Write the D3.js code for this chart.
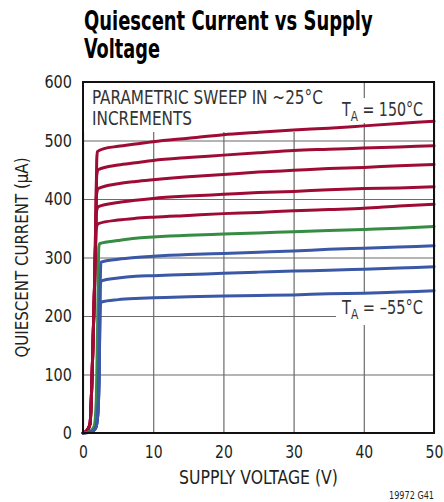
<!DOCTYPE html>
<html>
<head>
<meta charset="utf-8">
<script src="https://cdn.jsdelivr.net/npm/d3@7"></script>
<style>
  html, body { margin: 0; padding: 0; background: #fff; }
  svg { display: block; }
  text { font-family: "Liberation Sans Narrow", "Arial Narrow", "DejaVu Sans Condensed", "Roboto Condensed", sans-serif; fill: #231f20; }
</style>
</head>
<body>
<svg id="chart" width="444" height="502"></svg>
<script>
// ---------------- DATA ----------------
const titleLines = ["Quiescent Current vs Supply", "Voltage"];
const xLabel = "SUPPLY VOLTAGE (V)";
const yLabel = "QUIESCENT CURRENT (\u00B5A)";
const xTicks = [0, 10, 20, 30, 40, 50];
const yTicks = [0, 100, 200, 300, 400, 500, 600];
const footnote = "19972 G41";
const noteLines = ["PARAMETRIC SWEEP IN ~25\u00B0C", "INCREMENTS"];
const tempHigh = "150\u00B0C";
const tempLow = "\u201355\u00B0C";

// supply voltage (V), quiescent current (µA) per temperature curve
const t150 = [[0,0],[0.6,5],[1.0,15],[1.3,100],[1.6,230],[1.8,330],[1.95,465],[2.05,481],[3,486],[5,490],[7.5,494],[10,498],[15,504],[20,510],[25,514],[30,518],[35,521],[40,525],[45,529],[50,533]];
const t125 = [[0,0],[0.6,5],[1.0,15],[1.3,100],[1.6,230],[1.8,330],[1.95,440],[2.15,450],[5,458],[7.5,462],[10,466],[15,471],[20,475],[25,479],[30,483],[35,485],[40,487],[45,489],[50,491]];
const t100 = [[0,0],[0.6,5],[1.0,15],[1.3,100],[1.6,230],[1.8,330],[1.9,405],[2.2,418],[5,426],[7.5,430],[10,433],[15,438],[20,442],[25,446],[30,449],[35,452],[40,454],[45,457],[50,459]];
const t75  = [[0,0],[0.6,5],[1.0,15],[1.3,100],[1.6,230],[1.8,330],[1.88,375],[2.2,387],[5,394],[7.5,398],[10,401],[15,405],[20,408],[25,411],[30,413],[35,416],[40,418],[45,419],[50,421]];
const t50  = [[0,0],[0.6,5],[1.0,15],[1.3,100],[1.6,230],[1.8,345],[2.2,358],[5,364],[7.5,367],[10,369],[15,372],[20,375],[25,377],[30,380],[35,382],[40,384],[45,388],[50,391]];
const t25  = [[0,0],[1.0,3],[1.6,12],[1.9,60],[2.1,200],[2.25,318],[2.4,324],[5,329],[7.5,333],[10,335],[15,338],[20,340],[25,342],[30,344],[35,346],[40,348],[45,350],[50,353]];
const t0   = [[0,0],[1.2,2],[1.8,8],[2.1,30],[2.3,100],[2.45,250],[2.55,292],[5,297],[7.5,300],[10,302],[15,305],[20,307],[25,309],[30,311],[35,314],[40,316],[45,318],[50,320]];
const tm25 = [[0,0],[1.2,2],[1.8,8],[2.1,30],[2.3,100],[2.45,250],[2.6,260],[5,265],[7.5,268],[10,269],[15,271],[20,273],[25,275],[30,277],[35,278],[40,280],[45,282],[50,284]];
const tm55 = [[0,0],[1.2,2],[1.8,8],[2.1,30],[2.3,100],[2.45,215],[2.6,224],[5,228],[7.5,230],[10,231],[15,233],[20,234],[25,235],[30,236],[35,238],[40,239],[45,241],[50,243]];

const seriesRed = [t150, t125, t100, t75, t50];
const seriesGreen = [t25];
const seriesBlue = [t0, tm25, tm55];

// ---------------- DRAW ----------------
const svg = d3.select("#chart");
const L = 83, R = 434, T = 82, B = 433;
const x = d3.scaleLinear().domain([0, 50]).range([L, R]);
const y = d3.scaleLinear().domain([0, 600]).range([B, T]);

// fit a text element horizontally into a target width by scaling about its anchor x
function fitWidth(sel, ax, target) {
  const w = sel.node().getBBox().width;
  if (w > 0) {
    const k = target / w;
    sel.attr("transform", `translate(${ax},0) scale(${k},1) translate(${-ax},0)`);
  }
}

// title
const t1 = svg.append("text").attr("x", 84).attr("y", 30)
  .attr("font-size", 26).attr("font-weight", "bold").style("fill", "#000")
  .text(titleLines[0]);
fitWidth(t1, 84, 289);
const t2 = svg.append("text").attr("x", 84).attr("y", 58)
  .attr("font-size", 26).attr("font-weight", "bold").style("fill", "#000")
  .text(titleLines[1]);
fitWidth(t2, 84, 76);

// gridlines
const grid = svg.append("g").attr("class", "grid");
grid.append("g").attr("transform", `translate(0,${B})`)
  .call(d3.axisBottom(x).tickValues(xTicks).tickSize(-(B - T)).tickFormat(""))
  .call(g => g.select(".domain").remove());
grid.append("g").attr("transform", `translate(${L},0)`)
  .call(d3.axisLeft(y).tickValues(yTicks).tickSize(-(R - L)).tickFormat(""))
  .call(g => g.select(".domain").remove());
grid.selectAll("line").attr("stroke", "#6b6b6b").attr("stroke-width", 1.2);

// white boxes behind annotations (break gridlines)
svg.append("rect").attr("x", L + 1).attr("y", T + 1).attr("width", 252).attr("height", 49).attr("fill", "#fff");
svg.append("rect").attr("x", 336).attr("y", 98).attr("width", R - 337).attr("height", 25).attr("fill", "#fff");
svg.append("rect").attr("x", 336).attr("y", 293).attr("width", R - 337).attr("height", 32).attr("fill", "#fff");

// curves
const line = d3.line().x(d => x(d[0])).y(d => y(d[1])).curve(d3.curveMonotoneX);
const curves = svg.append("g").attr("fill", "none").attr("stroke-width", 3).attr("stroke-linejoin", "round").attr("stroke-linecap", "round");
seriesRed.forEach(s => curves.append("path").attr("d", line(s)).attr("stroke", "#9e0b34"));
seriesGreen.forEach(s => curves.append("path").attr("d", line(s)).attr("stroke", "#368c44"));
seriesBlue.forEach(s => curves.append("path").attr("d", line(s)).attr("stroke", "#3a58a6"));

// frame
svg.append("rect").attr("x", L).attr("y", T).attr("width", R - L).attr("height", B - T)
  .attr("fill", "none").attr("stroke", "#111").attr("stroke-width", 2);

// axes tick labels
const xAxis = svg.append("g").attr("transform", `translate(0,${B})`)
  .call(d3.axisBottom(x).tickValues(xTicks).tickSize(0).tickPadding(12));
xAxis.select(".domain").remove();
xAxis.selectAll("text").attr("font-size", 18).attr("font-family", null).style("fill", "#231f20");
xAxis.selectAll(".tick text").each(function () {
  const s = d3.select(this);
  const n = s.text().length;
  fitWidth(s, 0, n * 8.9);
});

const yAxis = svg.append("g").attr("transform", `translate(${L},0)`)
  .call(d3.axisLeft(y).tickValues(yTicks).tickSize(0).tickPadding(11));
yAxis.select(".domain").remove();
yAxis.selectAll("text").attr("font-size", 18).attr("font-family", null).style("fill", "#231f20");
yAxis.selectAll(".tick text").each(function () {
  const s = d3.select(this);
  const n = s.text().length;
  fitWidth(s, -11, n * 9.2);
});

// axis titles
const xt = svg.append("text").attr("x", (L + R) / 2).attr("y", 484).attr("text-anchor", "middle")
  .attr("font-size", 19).text(xLabel);
fitWidth(xt, (L + R) / 2, 159);
svg.append("text").attr("transform", `translate(28,${(T + B) / 2}) rotate(-90)`)
  .attr("text-anchor", "middle").attr("font-size", 18)
  .attr("textLength", 200).attr("lengthAdjust", "spacingAndGlyphs")
  .text(yLabel);

// annotations
const n1 = svg.append("text").attr("x", 92).attr("y", 104).attr("font-size", 19).style("fill", "#333").text(noteLines[0]);
fitWidth(n1, 92, 231);
const n2 = svg.append("text").attr("x", 92).attr("y", 125).attr("font-size", 19).style("fill", "#333").text(noteLines[1]);
fitWidth(n2, 92, 100);

function taLabel(yb, rest) {
  const t = svg.append("text").attr("x", 342).attr("y", yb).attr("font-size", 19).style("fill", "#333");
  t.append("tspan").text("T");
  t.append("tspan").attr("font-size", 14).attr("dy", 5).text("A");
  t.append("tspan").attr("dy", -5).text(" = " + rest);
  fitWidth(t, 342, 82);
}
taLabel(116, tempHigh);
taLabel(314, tempLow);

// footnote
const fn = svg.append("text").attr("x", 434).attr("y", 499).attr("text-anchor", "end")
  .attr("font-size", 10).text(footnote);
fitWidth(fn, 434, 45);
</script>
</body>
</html>
